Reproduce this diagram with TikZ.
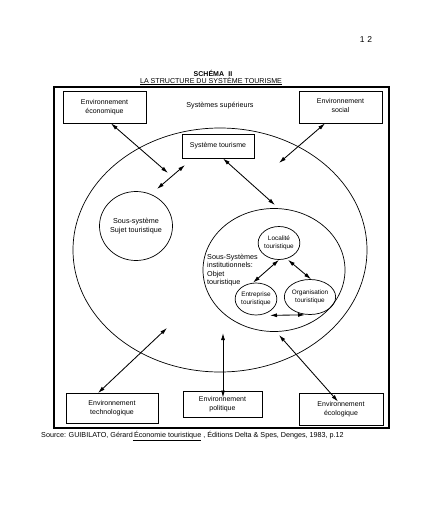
\documentclass[tikz,border=0pt]{standalone}
\usepackage{fontspec}
\setmainfont{Liberation Sans}
\usetikzlibrary{shapes.geometric,arrows.meta}
\begin{document}
\begin{tikzpicture}[x=1pt,y=-1pt,
  box/.style={draw,line width=0.9pt,inner sep=0pt,align=center,font=\fontsize{7}{9.5}\selectfont},
  oval/.style={draw,ellipse,line width=0.7pt,inner sep=0pt,align=center},
  small/.style={font=\fontsize{6.4}{8.5}\selectfont},
  arr/.style={line width=0.85pt,{Latex[length=7pt,width=4pt]}-{Latex[length=7pt,width=4pt]}},
  txt/.style={inner sep=0pt,font=\fontsize{7.2}{8.5}\selectfont}]
\useasboundingbox (0,0) rectangle (445,512);
% page number
\node[inner sep=0pt,font=\fontsize{8.5}{10}\selectfont] (pg) at (366,40) {1\,\,2};
% title
\node[inner sep=0pt,anchor=base,font=\bfseries\fontsize{7}{8}\selectfont] (t1) at (213,76) {SCHÉMA\,\, II};
\node[inner sep=0pt,anchor=base,font=\fontsize{7.1}{8}\selectfont] (t2) at (211,83) {\underline{LA STRUCTURE DU SYSTÈME TOURISME}};
% frame
\node[draw,line width=1.2pt,inner sep=0pt,minimum width=335pt,minimum height=341pt] (frame) at (221.5,257.5) {};
% top boxes
\node[box,minimum width=83pt,minimum height=32pt] (eco) at (104.5,107) {Environnement\\économique};
\node[box,minimum width=83pt,minimum height=32pt] (soc) at (340.5,107) {Environnement\\\strut social};
\node[txt] (sup) at (220,106) {Systèmes supérieurs};
% big ellipse
\node[oval,minimum width=294pt,minimum height=244pt] (big) at (220,250) {};
\node[box,minimum width=72pt,minimum height=24pt,fill=white] (st) at (218,146) {Système tourisme};
% sujet
\node[oval,minimum width=70pt,minimum height=69pt,font=\fontsize{7.2}{8.5}\selectfont] (sujet) at (136,226) {Sous-système\\Sujet touristique};
% institutionnels
\node[oval,minimum width=142pt,minimum height=123pt] (inst) at (274,270) {};
\node[inner sep=0pt,anchor=west,align=left,font=\fontsize{7.2}{8.5}\selectfont] (insttxt) at (207,270) {Sous-Systèmes\\institutionnels:\\Objet\\touristique};
\node[oval,small,minimum width=40pt,minimum height=33pt] (loc) at (279,243) {Localité\\touristique};
\node[oval,small,minimum width=41pt,minimum height=32pt] (ent) at (256,299) {Entreprise\\touristique};
\node[oval,small,minimum width=40pt,minimum height=35pt] (org) at (310,297) {Organisation\\touristique};
% bottom boxes
\node[box,minimum width=92pt,minimum height=30pt] (tech) at (112,408) {Environnement\\technologique};
\node[box,minimum width=79pt,minimum height=26pt] (pol) at (222.5,404) {Environnement\\politique};
\node[box,minimum width=84pt,minimum height=32pt] (ecol) at (341,409) {Environnement\\écologique};
% free ends
\coordinate (c1) at (168,173);
\coordinate (c2a) at (185,165);
\coordinate (c2b) at (157,189);
\coordinate (c3) at (275,205);
\coordinate (c4) at (279,163);
\coordinate (c5) at (167,328);
\coordinate (c6) at (223,333);
\coordinate (c7) at (279,335);
% arrows
\draw[arr] ([xshift=6.5pt]eco.south) -- (c1);
\draw[arr] (c2a) -- (c2b);
\draw[arr] ([xshift=5pt]st.south) -- (c3);
\draw[arr] ([xshift=-15.5pt]soc.south) -- (c4);
\draw[arr] ([xshift=-14pt,yshift=-0.5pt]tech.north) -- (c5);
\draw[arr] ([xshift=0.5pt,yshift=-7pt]pol.north) -- (c6);
\draw[arr] ([xshift=-3pt,yshift=-9pt]ecol.north) -- (c7);
\draw[arr] (loc.south) -- ([xshift=-3pt]ent.north);
\draw[arr] ([xshift=9pt]loc.south) -- ([xshift=1pt]org.north);
\draw[arr] ([xshift=14pt]ent.south) -- ([xshift=-5pt]org.south);
% source
\node[inner sep=0pt,anchor=west,font=\fontsize{7.2}{8}\selectfont] (src) at (41,436) {Source: GUIBILATO, Gérard\underline{\,Économie touristique} , Éditions Delta \& Spes, Denges, 1983, p.12};
\end{tikzpicture}
\end{document}
